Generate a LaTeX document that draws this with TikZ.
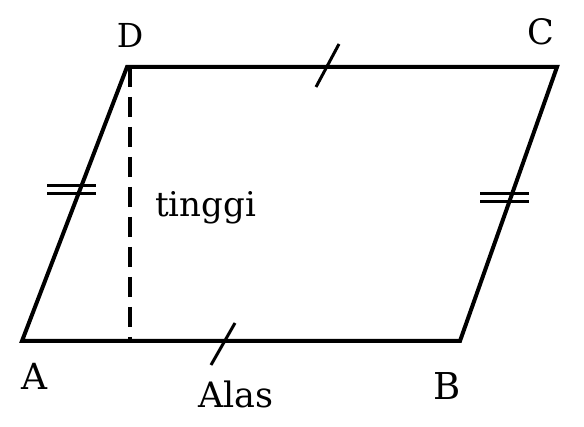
\documentclass[tikz,border=0pt]{standalone}
\usepackage{fontspec}
\setmainfont{DejaVu Serif}
\begin{document}
\begin{tikzpicture}[x=1pt,y=-1pt,
  side/.style={line width=4pt,line join=miter},
  tick/.style={line width=3pt},
  height/.style={line width=4pt,dash pattern=on 20pt off 10pt},
  lbl/.style={inner sep=0pt}]
\useasboundingbox (0,0) rectangle (584,427);
\coordinate (A) at (22,341);
\coordinate (B) at (460,341);
\coordinate (C) at (557,67);
\coordinate (D) at (127,67);
\coordinate (H) at (130,341);
\coordinate (Dt) at (130,67);
\draw[side] (A) -- (B) -- (C) -- (D) -- cycle;
\draw[height] (Dt) -- (H);
% single ticks
\coordinate (t1a) at (211,365); \coordinate (t1b) at (235,323);
\draw[tick] (t1a) -- (t1b);
\coordinate (t2a) at (316,87); \coordinate (t2b) at (339,44);
\draw[tick] (t2a) -- (t2b);
% double ticks
\coordinate (d1a) at (47,186); \coordinate (d1b) at (96,186);
\coordinate (d1c) at (47,194); \coordinate (d1d) at (96,194);
\draw[tick] (d1a) -- (d1b);
\draw[tick] (d1c) -- (d1d);
\coordinate (d2a) at (480,194); \coordinate (d2b) at (529,194);
\coordinate (d2c) at (480,202); \coordinate (d2d) at (529,202);
\draw[tick] (d2a) -- (d2b);
\draw[tick] (d2c) -- (d2d);
% labels
\node[lbl,font=\fontsize{33}{36}\selectfont] (lD) at (130,35) {D};
\node[lbl,font=\fontsize{35}{40}\selectfont] (lC) at (541,32) {C};
\node[lbl,font=\fontsize{36}{40}\selectfont] (lA) at (34,376) {A};
\node[lbl,font=\fontsize{37}{40}\selectfont] (lB) at (447,386) {B};
\node[lbl,font=\fontsize{35}{40}\selectfont,anchor=base] (lAlas) at (236,408) {Alas};
\node[lbl,font=\fontsize{34}{36}\selectfont,anchor=base west] (lt) at (155,217) {tinggi};
\end{tikzpicture}
\end{document}
